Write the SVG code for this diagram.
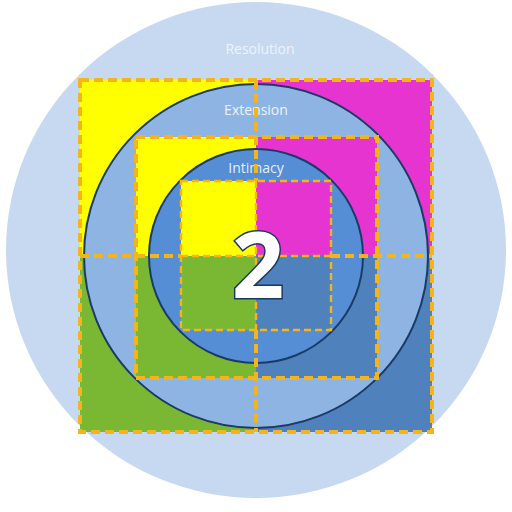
<svg xmlns="http://www.w3.org/2000/svg" width="512" height="512" viewBox="0 0 512 512">
<style>
.y{fill:#ffff00}.m{fill:#e534d0}.g{fill:#7ab833}.b{fill:#4f81bd}
.ring{stroke:#1b3a66;stroke-width:2}
.d{fill:none;stroke:#f4b41c;stroke-width:4;stroke-dasharray:9 5}
.di{fill:none;stroke:#f4b41c;stroke-width:2.4;stroke-dasharray:7 4}
.lbl{font-family:"Open Sans","Liberation Sans",sans-serif;font-size:14px;fill:#ffffff;text-anchor:middle}
</style>
<rect width="512" height="512" fill="#ffffff"/>
<g id="resolution">
<ellipse cx="256" cy="250" rx="250" ry="248" fill="#c6d9f1"/>
<rect class="y" x="80" y="80" width="176" height="176"/>
<rect class="m" x="256" y="80" width="176" height="176"/>
<rect class="g" x="80" y="256" width="176" height="176"/>
<rect class="b" x="256" y="256" width="176" height="176"/>
<text class="lbl" x="260" y="54" opacity="0.7">Resolution</text>
</g>
<g id="extension">
<circle class="ring" cx="256" cy="256" r="172" fill="#8eb4e3"/>
<rect class="y" x="136" y="137" width="120" height="119"/>
<rect class="m" x="256" y="137" width="121" height="119"/>
<rect class="g" x="136" y="256" width="120" height="122"/>
<rect class="b" x="256" y="256" width="121" height="122"/>
<text class="lbl" x="256" y="115" opacity="0.85">Extension</text>
</g>
<g id="intimacy">
<circle class="ring" cx="256" cy="256" r="107" fill="#558ed5"/>
<text class="lbl" x="256" y="173" opacity="0.85">Intimacy</text>
<rect class="y" x="181" y="181" width="75" height="75"/>
<rect class="m" x="256" y="181" width="75" height="75"/>
<rect class="g" x="181" y="256" width="75" height="74"/>
<rect class="b" x="256" y="256" width="75" height="74"/>
</g>
<g id="connectors">
<rect class="d" x="80" y="80" width="352" height="352"/>
<rect class="d" x="136" y="137" width="241" height="241"/>
<path class="d" d="M256 80V181M256 330V432M80 256H181M331 256H432"/>
<rect class="di" x="181" y="181" width="150" height="149"/>
<path class="di" d="M256 181V330M181 256H331"/>
</g>
<g id="number">
<text x="258" y="298" font-family="Open Sans, Liberation Sans, sans-serif" font-weight="bold" font-size="92" text-anchor="middle" fill="#ffffff" stroke="#17375e" stroke-width="3" paint-order="stroke">2</text>
</g>
</svg>
